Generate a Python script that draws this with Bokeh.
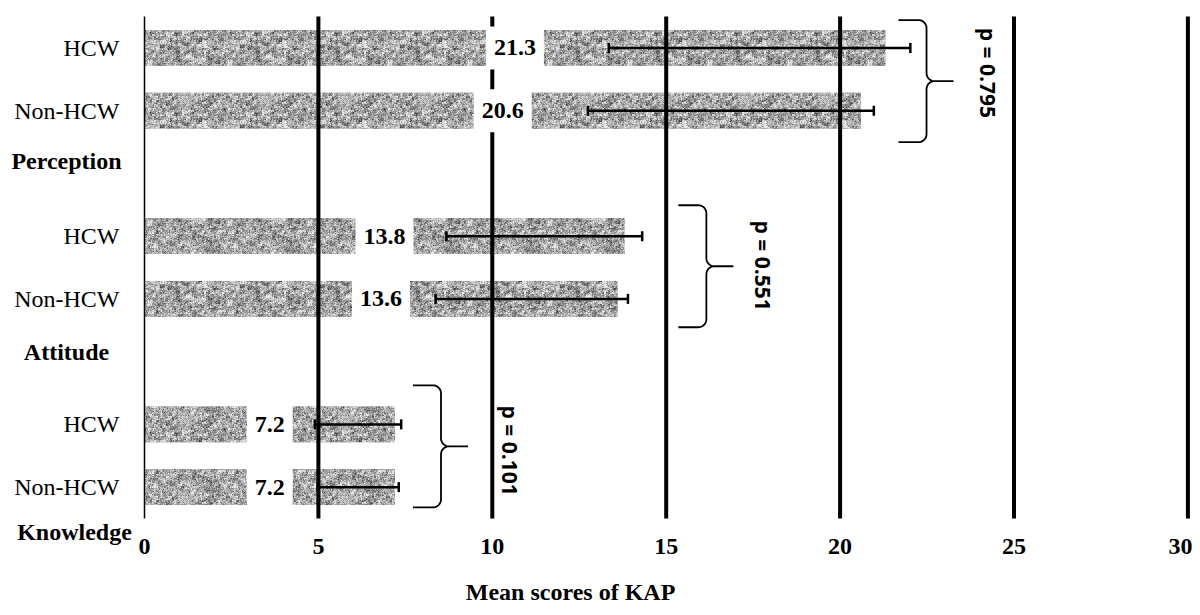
import zlib, struct, base64
import numpy as np
from bokeh.plotting import figure
from bokeh.models import (FixedTicker, Label, Whisker, ColumnDataSource, TeeHead, Range1d,
                          LinearAxis, ImageURLTexture)
from bokeh.core.properties import value
from bokeh.embed import file_html
from bokeh.resources import INLINE

# ---------------- data ----------------
groups = ["Knowledge", "Attitude", "Perception"]
categories = ["HCW", "Non-HCW"]
hcw_means = [7.2, 13.8, 21.3]
non_hcw_means = [7.2, 13.6, 20.6]
hcw_err_lower = [4.90, 8.68, 13.35]
hcw_err_upper = [7.38, 14.31, 22.02]
non_hcw_err_lower = [4.98, 8.37, 12.75]
non_hcw_err_upper = [7.31, 13.90, 20.97]
p_values = ["0.101", "0.551", "0.795"]
x_ticks = [0, 5, 10, 15, 20, 25, 30]
x_title = "Mean scores of KAP"

# ---------------- layout constants ----------------
SERIF = "Liberation Serif"
SANS = "Open Sans"
W, H = 1192, 607
PX_X = 34.78          # pixels per x unit
PX_Y = 62.75          # pixels per row slot
X0_PX = 144           # canvas x of value 0
Y_TOP = 7.755         # slot value at canvas top
x_start = -X0_PX / PX_X
x_end = x_start + W / PX_X
y_end = Y_TOP
y_start = y_end - H / PX_Y
ROW_LO, ROW_HI = -0.5, 7.5


# ---------------- bar texture (speckled grey) ----------------
def png_gray(arr):
    h, w = arr.shape
    raw = b"".join(b"\x00" + arr[i].astype(np.uint8).tobytes() for i in range(h))

    def chunk(t, d):
        c = struct.pack(">I", len(d)) + t + d
        return c + struct.pack(">I", zlib.crc32(t + d) & 0xffffffff)

    return (b"\x89PNG\r\n\x1a\n" + chunk(b"IHDR", struct.pack(">IIBBBBB", w, h, 8, 0, 0, 0, 0))
            + chunk(b"IDAT", zlib.compress(raw)) + chunk(b"IEND", b""))


rng = np.random.default_rng(11)
coarse = rng.normal(0, 1, (40, 40))
coarse = (coarse + 0.5 * (np.roll(coarse, 1, 0) + np.roll(coarse, 1, 1))) / 2.0
tex = np.kron(coarse, np.ones((2, 2))) + 0.6 * rng.normal(0, 1, (80, 80))
tex = (tex - tex.mean()) / tex.std()
tex = np.clip(166 + 38 * tex, 62, 235)
tex_url = "data:image/png;base64," + base64.b64encode(png_gray(tex)).decode()

ys, means, lows, highs, labels = [], [], [], [], []
for g in range(len(groups)):
    for c, (m, lo, hi) in enumerate([(hcw_means[g], hcw_err_lower[g], hcw_err_upper[g]),
                                     (non_hcw_means[g], non_hcw_err_lower[g], non_hcw_err_upper[g])]):
        ys.append(3 * g + (1 - c))
        means.append(m)
        lows.append(lo)
        highs.append(hi)
        labels.append(f"{m:.1f}")

src = ColumnDataSource(dict(y=ys, mean=means, lower=lows, upper=highs, label=labels))

p = figure(frame_width=W, frame_height=H,
           x_range=Range1d(x_start, x_end), y_range=Range1d(y_start, y_end),
           x_axis_location=None, y_axis_location=None,
           output_backend="svg", toolbar_location=None,
           min_border_left=0, min_border_right=0, min_border_top=0, min_border_bottom=0)
p.outline_line_color = None
p.background_fill_color = "white"
p.border_fill_color = "white"
p.xgrid.visible = False
p.ygrid.visible = False

p.hbar(y="y", left=0, right="mean", height=0.57, source=src,
       fill_color="#a8a8a8", line_color=None,
       hatch_pattern=value("image"), hatch_extra={"image": ImageURLTexture(url=tex_url)})

# vertical grid lines at the x ticks (above bars, below value labels)
grid_x = x_ticks[1:]
p.segment(x0=grid_x, x1=grid_x, y0=[ROW_LO] * len(grid_x), y1=[ROW_HI] * len(grid_x),
          line_color="black", line_width=4)

# value labels with white box
for yy, m, t in zip(ys, means, labels):
    p.add_layout(Label(x=m / 2, y=yy, text=t, text_align="center", text_baseline="middle",
                       text_font=SERIF, text_font_style="bold", text_font_size="24px",
                       text_color="black", background_fill_color="white", padding=dict(x=8, y=14)))

# error bars
p.add_layout(Whisker(source=src, base="y", lower="lower", upper="upper", dimension="width",
                     line_color="black", line_width=2.5, level="annotation",
                     upper_head=TeeHead(size=10, line_width=2.5, line_color="black"),
                     lower_head=TeeHead(size=10, line_width=2.5, line_color="black")))

# braces + p-values
brace_left = [7.72, 15.35, 21.68]
brace_center = [0.65, 3.52, 6.47]
p_pos = [(10.52, 0.58), (17.77, 3.53), (24.24, 6.60)]
th = np.linspace(0, np.pi / 2, 12)
for g in range(len(groups)):
    L = brace_left[g] * PX_X
    S = L + 28
    T = S + 27
    mid = brace_center[g] * PX_Y
    half, r = 61, 8
    top, bot = mid + half, mid - half
    pts = [(L, top), (S - r, top)]
    pts += [(S - r + r * np.sin(a), top - r + r * np.cos(a)) for a in th]
    pts += [(S, mid + r)]
    pts += [(S + r - r * np.cos(a), mid + r - r * np.sin(a)) for a in th]
    pts += [(T, mid), (S + r, mid)]
    pts += [(S + r - r * np.cos(a), mid - r + r * np.sin(a)) for a in th[::-1]]
    pts += [(S, bot + r)]
    pts += [(S - r + r * np.sin(a), bot + r - r * np.cos(a)) for a in th[::-1]]
    pts += [(L, bot)]
    p.line([q[0] / PX_X for q in pts], [q[1] / PX_Y for q in pts], line_color="black", line_width=1.8)
    p.add_layout(Label(x=p_pos[g][0], y=p_pos[g][1], text=f"p = {p_values[g]}", angle=-np.pi / 2,
                       text_align="center", text_baseline="middle", text_font=SANS,
                       text_font_style="bold", text_font_size="21px", text_color="black"))

# y axis crossing at x = 0
yaxis = LinearAxis(fixed_location=0, bounds=(ROW_LO, ROW_HI))
yaxis.ticker = FixedTicker(ticks=sorted(ys))
yaxis.major_label_overrides = {y: categories[0] if y % 3 == 1 else categories[1] for y in ys}
yaxis.major_label_text_font = SERIF
yaxis.major_label_text_font_size = "24px"
yaxis.major_label_text_color = "black"
yaxis.major_tick_line_color = None
yaxis.minor_tick_line_color = None
yaxis.major_label_standoff = 19
yaxis.axis_line_color = "black"
yaxis.axis_line_width = 1.5
p.add_layout(yaxis, "left")

# x axis at the bottom of the rows
xaxis = LinearAxis(fixed_location=ROW_LO)
xaxis.ticker = FixedTicker(ticks=x_ticks)
xaxis.axis_line_color = None
xaxis.major_tick_line_color = None
xaxis.minor_tick_line_color = None
xaxis.major_label_text_font = SERIF
xaxis.major_label_text_font_style = "bold"
xaxis.major_label_text_font_size = "24px"
xaxis.major_label_text_color = "black"
xaxis.major_label_standoff = 14
p.add_layout(xaxis, "below")

# group labels
group_y = [-0.71, 2.15, 5.19]
group_off = [-70, -78, -78]
for g, name in enumerate(groups):
    p.add_layout(Label(x=0, y=group_y[g], x_offset=group_off[g], text=name, text_align="center",
                       text_baseline="middle", text_font=SERIF, text_font_style="bold",
                       text_font_size="24px", text_color="black"))

# x title
p.add_layout(Label(x=12.25, y=-1.67, text=x_title, text_align="center", text_baseline="middle",
                   text_font=SERIF, text_font_style="bold", text_font_size="24px", text_color="black"))

open("out.html", "w").write(file_html(p, INLINE))
